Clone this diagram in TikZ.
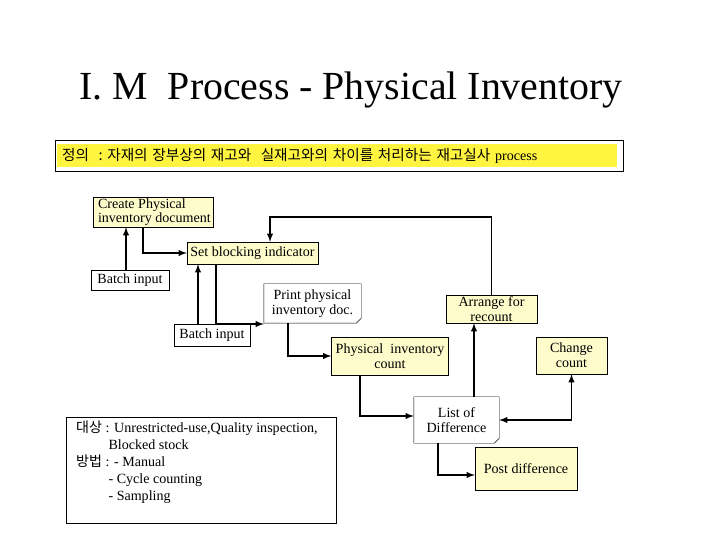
\documentclass[tikz,border=0pt]{standalone}
\usepackage{fontspec}
\setmainfont{Liberation Serif}
\newfontfamily\kor{Noto Sans CJK KR}
\usetikzlibrary{positioning}

\tikzset{
  procbox/.style={draw,fill=yellow!20,inner sep=1pt,font=\fontsize{12}{12.5}\selectfont,align=center},
  plainbox/.style={draw,fill=white,inner sep=1pt,font=\fontsize{12}{12.5}\selectfont,align=center},
  flow/.style={->,>=latex,line width=1.4pt},
}

\begin{document}
\begin{tikzpicture}[x=0.03cm,y=-0.03cm]
  \useasboundingbox (0,0) rectangle (720,540);
  % title
  \node (title) at (351,90) {\fontsize{34}{38}\selectfont I. M\ \ Process - Physical Inventory};
  % definition
  \node[draw,fill=white,minimum width=568*0.03cm,minimum height=31*0.03cm] (defbox) at (339,155.5) {};
  \node[fill=yellow!75,minimum width=560*0.03cm,minimum height=22*0.03cm,anchor=west,text width=550*0.03cm,
    font=\fontsize{12}{13}\selectfont]
    (def) at (57,155.5) {{\kor\fontsize{12.5}{13}\selectfont 정의\ \ :\ 자재의 장부상의 재고와\ \ 실재고와의 차이를 처리하는 재고실사} process};
  % steps
  \node[procbox,minimum width=120*0.03cm,minimum height=30*0.03cm] (create) at (153,212) {};
  \node[font=\fontsize{12}{12.5}\selectfont,align=left,anchor=west,inner sep=0pt] (createtxt) at ([xshift=5*0.03cm]create.west)
    {Create Physical\\inventory document};
  \node[procbox,minimum width=131*0.03cm,minimum height=22*0.03cm] (block) at (252.5,253) {Set blocking indicator};
  \node[plainbox,minimum width=78*0.03cm,minimum height=20*0.03cm] (batchA) at (130,280) {Batch input};
  \node[plainbox,draw=none,minimum width=97*0.03cm,minimum height=39*0.03cm,inner sep=0pt] (print) at (312.5,303.5) {};
  \node[plainbox,minimum width=76*0.03cm,minimum height=22*0.03cm] (batchB) at (212,335) {Batch input};
  \node[procbox,minimum width=91*0.03cm,minimum height=28*0.03cm] (recount) at (491.5,309) {Arrange for\\recount};
  \node[procbox,minimum width=117*0.03cm,minimum height=38*0.03cm] (count) at (390,356) {Physical\ \ inventory\\count};
  \node[procbox,minimum width=71*0.03cm,minimum height=37*0.03cm] (change) at (571.5,355.5) {Change\\count};
  \node[plainbox,draw=none,minimum width=85*0.03cm,minimum height=46*0.03cm,inner sep=0pt] (diff) at (456.5,420) {};
  \node[procbox,minimum width=102*0.03cm,minimum height=43*0.03cm] (post) at (526,468.5) {Post difference};
  % note shapes
  \foreach \n in {print,diff}
    \draw[fill=white] (\n.north west) -- (\n.north east) -- ([yshift=5*0.03cm]\n.south east)
      -- ([xshift=-5*0.03cm]\n.south east) -- (\n.south west) -- cycle;
  \node[plainbox,draw=none,fill=none] (printtxt) at (print) {Print physical\\inventory doc.};
  \node[plainbox,draw=none,fill=none] (difftxt) at (diff) {List of\\Difference};
  % remark
  \draw (66,417) rectangle (336,523);
  \node[align=left,font=\fontsize{12}{14.5}\selectfont,anchor=north west,inner sep=0pt]
    (note) at (76,421) {{\kor\fontsize{12}{13}\selectfont 대상} : Unrestricted-use,Quality inspection,\\
    \hspace*{2.3em}Blocked stock\\{\kor\fontsize{12}{13}\selectfont 방법} : - Manual\\
    \hspace*{2.3em}- Cycle counting\\\hspace*{2.3em}- Sampling};
  % flow
  \draw[flow] (batchA.north -| 126,0) -- (create.south -| 126,0);
  \draw[flow] (create.south -| 143,0) |- (block.west);
  \draw[flow] (recount.north) |- (270,217) -- (block.north -| 270,0);
  \draw[flow] (block.south -| 216,0) |- (print.west |- 0,324);
  \draw[flow] (batchB.north -| 198,0) -- (block.south -| 198,0);
  \draw[flow] (print.south -| 288,0) |- (count.west);
  \draw[flow] (count.south -| 360,0) |- (diff.west |- 0,416);
  \draw[flow] (diff.north -| 474,0) -- (recount.south -| 474,0);
  \draw[flow,<->] (diff.east |- 0,420) -| (change.south);
  \draw[flow] (diff.south -| 438,0) |- (post.west |- 0,475);
\end{tikzpicture}
\end{document}
